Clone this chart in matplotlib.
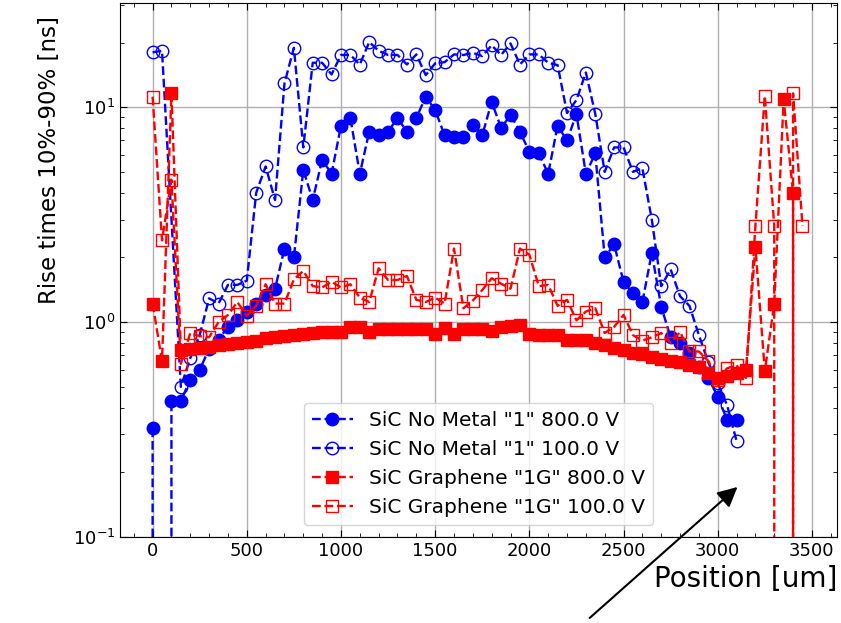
import matplotlib
matplotlib.use('Agg')
import matplotlib.pyplot as plt
import numpy as np
from matplotlib.ticker import AutoMinorLocator

# scan positions [um]
pos_nometal = np.arange(0, 3150, 50)
pos_nometal_100 = [p for p in pos_nometal if p != 100]  # no point at 100 um
pos_graphene = np.arange(0, 3500, 50)

# rise times [ns]; 0 = no signal
nometal_800 = [0.32, 0, 0.43, 0.43, 0.54, 0.60, 0.75, 0.83, 0.95, 1.02,
               1.12, 1.22, 1.34, 1.43, 2.2, 2.0, 5.1, 3.7, 5.7, 4.9,
               8.2, 8.9, 4.9, 7.7, 7.4, 7.7, 8.9, 7.7, 8.9, 11.2,
               9.7, 7.4, 7.3, 7.3, 8.3, 7.4, 10.6, 8.0, 9.2, 7.7,
               6.2, 6.1, 4.9, 8.2, 7.0, 9.3, 4.9, 6.1, 2.0, 2.3,
               1.54, 1.36, 1.24, 2.1, 1.18, 0.85, 0.80, 0.72, 0.62, 0.55,
               0.45, 0.35, 0.35]

nometal_100 = [18.0, 18.3, 0.50, 0.68, 0.87, 1.29, 1.22, 1.49, 1.49,
               1.56, 4.0, 5.3, 3.7, 12.9, 18.9, 6.5, 16.1, 16.1, 14.2,
               17.5, 17.5, 15.8, 20.1, 18.3, 17.5, 17.5, 15.8, 17.6, 14.1,
               16.0, 16.2, 17.6, 17.5, 17.9, 17.3, 19.4, 17.5, 19.8, 15.8,
               17.6, 17.6, 16.1, 15.7, 9.4, 10.8, 14.5, 9.3, 5.0, 6.5,
               6.5, 5.0, 5.2, 3.0, 1.47, 1.76, 1.32, 1.19, 0.87, 0.65,
               0.52, 0.41, 0.28]

graphene_800 = [1.22, 0.66, 11.6, 0.74, 0.75, 0.76, 0.77, 0.78, 0.79, 0.80,
                0.81, 0.82, 0.84, 0.85, 0.86, 0.87, 0.88, 0.89, 0.90, 0.90,
                0.90, 0.95, 0.95, 0.90, 0.93, 0.93, 0.93, 0.93, 0.93, 0.93,
                0.88, 0.94, 0.88, 0.93, 0.93, 0.93, 0.91, 0.95, 0.96, 0.97,
                0.88, 0.87, 0.87, 0.87, 0.83, 0.83, 0.83, 0.80, 0.78, 0.76,
                0.74, 0.72, 0.71, 0.69, 0.67, 0.66, 0.65, 0.63, 0.62, 0.58,
                0.55, 0.56, 0.58, 0.60, 2.24, 0.59, 1.22, 10.9, 3.97, 0]

graphene_100 = [11.2, 2.4, 4.6, 0.64, 0.89, 0.86, 0.85, 1.0, 1.08, 1.24,
                1.07, 1.19, 1.50, 1.22, 1.22, 1.58, 1.73, 1.47, 1.45, 1.54,
                1.45, 1.50, 1.30, 1.24, 1.78, 1.57, 1.57, 1.64, 1.27, 1.24,
                1.30, 1.22, 2.2, 1.16, 1.26, 1.41, 1.60, 1.51, 1.43, 2.2,
                2.06, 1.47, 1.49, 1.19, 1.27, 1.02, 1.12, 1.16, 0.89, 0.95,
                1.08, 0.87, 0.82, 0.85, 0.89, 0.80, 0.90, 0.73, 0.73, 0.66,
                0.54, 0.61, 0.63, 0.55, 2.8, 11.3, 2.8, 0, 11.6, 2.8]

arrow_head = (3105, 0.171)
arrow_tail = (2320, 0.042)

fig = plt.figure(figsize=(8.41, 6.23), dpi=100)
ax = fig.add_axes([0.1427, 0.138, 0.8525, 0.857])

ax.plot(pos_nometal, nometal_800, 'o--', color='blue', ms=9, lw=1.7,
        label='SiC No Metal "1" 800.0 V')
ax.plot(pos_nometal_100, nometal_100, 'o--', color='blue', mfc='none', ms=9, lw=1.7,
        label='SiC No Metal "1" 100.0 V')
ax.plot(pos_graphene, graphene_800, 's--', color='red', ms=9, lw=1.7,
        label='SiC Graphene "1G" 800.0 V')
ax.plot(pos_graphene, graphene_100, 's--', color='red', mfc='none', ms=9, lw=1.7,
        label='SiC Graphene "1G" 100.0 V')

ax.set_yscale('log')
ax.set_ylim(0.1, 30.5)
ax.set_xlim(-173, 3633)
ax.xaxis.set_minor_locator(AutoMinorLocator(5))
ax.tick_params(which='both', direction='in', top=True, right=True, labelsize=13)
ax.tick_params(which='major', length=5)
ax.tick_params(which='minor', length=3)
ax.grid(True, which='major', color='#b0b0b0', lw=1)

ax.set_xlabel('Position [um]', fontsize=20, loc='right')
ax.set_ylabel('Rise times 10%-90% [ns]', fontsize=16.5, loc='top')
ax.yaxis.set_label_coords(-0.083, 0.976)

ax.legend(loc='lower center', bbox_to_anchor=(0.5, 0.0225), borderaxespad=0, fontsize=14.5)

ax.annotate('', xy=arrow_head, xytext=arrow_tail, annotation_clip=False,
            arrowprops=dict(arrowstyle='-|>', color='black', lw=1.5,
                            mutation_scale=30, shrinkA=0, shrinkB=0))

fig.savefig('out.png', dpi=100)
